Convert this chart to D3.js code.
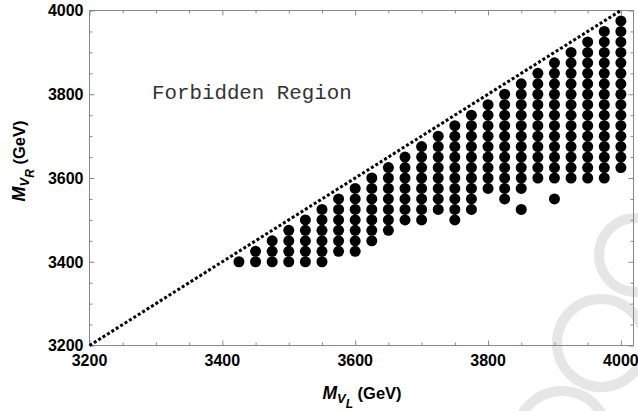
<!DOCTYPE html>
<html>
<head>
<meta charset="utf-8">
<script src="https://cdn.jsdelivr.net/npm/d3@7"></script>
<style>
  body { margin: 0; background: #fff; }
  .tick-label { font-family: "Liberation Sans", Arial, sans-serif; font-weight: bold; font-size: 16px; fill: #000; }
  .axis-title { font-family: "Liberation Sans", Arial, sans-serif; font-weight: bold; fill: #000; }
</style>
</head>
<body>
<div id="chart"></div>
<script>
var svgWidth = 638;
var svgHeight = 411;
var margin = {
    top: 10.5,
    right: 4.5,
    bottom: 65.5,
    left: 89.5
};
var width = svgWidth - margin.left - margin.right;
var height = svgHeight - margin.top - margin.bottom;

// columns of allowed points: M_VL value and lowest / highest M_VR value (step 25 GeV)
var colMVL  = [3425, 3450, 3475, 3500, 3525, 3550, 3575, 3600, 3625, 3650, 3675, 3700,
               3725, 3750, 3775, 3800, 3825, 3850, 3875, 3900, 3925, 3950, 3975, 4000];
var colLow  = [3400, 3400, 3400, 3400, 3400, 3400, 3425, 3425, 3450, 3475, 3500, 3500,
               3525, 3500, 3525, 3575, 3550, 3575, 3600, 3600, 3600, 3600, 3600, 3625];
var colHigh = [3400, 3425, 3450, 3475, 3500, 3525, 3550, 3575, 3600, 3625, 3650, 3675,
               3700, 3725, 3750, 3775, 3800, 3825, 3850, 3875, 3900, 3925, 3950, 3975];
var gridStep = 25;
// isolated points below the columns
var extraMVL = [3850, 3900];
var extraMVR = [3525, 3550];

var xTickValues = [3200, 3400, 3600, 3800, 4000];
var yTickValues = [3200, 3400, 3600, 3800, 4000];
var minorStep = 50;

var points = [];
colMVL.forEach(function (mvl, i) {
    for (var mvr = colLow[i]; mvr <= colHigh[i]; mvr += gridStep) {
        points.push({ mvl: mvl, mvr: mvr });
    }
});
extraMVL.forEach(function (mvl, i) {
    points.push({ mvl: mvl, mvr: extraMVR[i] });
});

var svg = d3
    .select("#chart")
    .append("svg")
    .attr("width", svgWidth)
    .attr("height", svgHeight);

// faint watermark rings behind the plot
var rings = [[636, 255, 37], [601, 343, 44], [562, 437, 46]];
svg.append("g")
    .selectAll("circle")
    .data(rings)
    .enter()
    .append("circle")
    .attr("cx", d => d[0])
    .attr("cy", d => d[1])
    .attr("r", d => d[2])
    .attr("fill", "none")
    .attr("stroke", "#e6e6e6")
    .attr("stroke-width", 10);

var chartGroup = svg.append("g")
    .attr("transform", `translate(${margin.left}, ${margin.top})`);

var xScale = d3.scaleLinear()
    .domain([3200, 4019])
    .range([0, width]);
var yScale = d3.scaleLinear()
    .domain([3200, 4000])
    .range([height, 0]);

var minorX = d3.range(3200, 4001, minorStep).filter(v => xTickValues.indexOf(v) < 0);
var minorY = d3.range(3200, 4001, minorStep).filter(v => yTickValues.indexOf(v) < 0);

// frame ticks (inside, on all four sides)
function frameAxis(axisFn, scale, values, size, transform) {
    var g = chartGroup.append("g")
        .attr("transform", transform)
        .call(axisFn(scale).tickValues(values).tickSize(size).tickFormat(""));
    g.select(".domain").remove();
    g.selectAll("line").attr("stroke", "#888").attr("stroke-width", 1);
    return g;
}
frameAxis(d3.axisTop, xScale, xTickValues, 5, `translate(0, ${height})`);
frameAxis(d3.axisTop, xScale, minorX, 3, `translate(0, ${height})`);
frameAxis(d3.axisBottom, xScale, xTickValues, 5, "translate(0, 0)");
frameAxis(d3.axisBottom, xScale, minorX, 3, "translate(0, 0)");
frameAxis(d3.axisRight, yScale, yTickValues, 5, "translate(0, 0)");
frameAxis(d3.axisRight, yScale, minorY, 3, "translate(0, 0)");
frameAxis(d3.axisLeft, yScale, yTickValues, 5, `translate(${width}, 0)`);
frameAxis(d3.axisLeft, yScale, minorY, 3, `translate(${width}, 0)`);

chartGroup.append("rect")
    .attr("x", 0)
    .attr("y", 0)
    .attr("width", width)
    .attr("height", height)
    .attr("fill", "none")
    .attr("stroke", "#888")
    .attr("stroke-width", 1);

// tick labels
chartGroup.selectAll(".xlab")
    .data(xTickValues)
    .enter()
    .append("text")
    .attr("class", "tick-label")
    .attr("x", d => xScale(d))
    .attr("y", height + 20.5)
    .attr("text-anchor", "middle")
    .text(d => d);

chartGroup.selectAll(".ylab")
    .data(yTickValues)
    .enter()
    .append("text")
    .attr("class", "tick-label")
    .attr("x", -6)
    .attr("y", d => yScale(d))
    .attr("dy", "0.36em")
    .attr("text-anchor", "end")
    .text(d => d);

// points
chartGroup.append("g")
    .selectAll("circle")
    .data(points)
    .enter()
    .append("circle")
    .attr("cx", d => xScale(d.mvl))
    .attr("cy", d => yScale(d.mvr))
    .attr("r", 5.5)
    .attr("fill", "#000");

// M_VR = M_VL boundary
chartGroup.append("line")
    .attr("x1", xScale(3200))
    .attr("y1", yScale(3200))
    .attr("x2", xScale(4000))
    .attr("y2", yScale(4000))
    .attr("stroke", "#000")
    .attr("stroke-width", 3)
    .attr("stroke-dasharray", "3,2.2");

chartGroup.append("text")
    .attr("x", 152 - margin.left)
    .attr("y", 98.5 - margin.top)
    .attr("font-family", "Liberation Mono, Courier New, monospace")
    .attr("font-size", "20.8px")
    .attr("fill", "#333")
    .text("Forbidden Region");

// axis titles
var xTitle = svg.append("text")
    .attr("class", "axis-title")
    .attr("x", 362)
    .attr("y", 399)
    .attr("text-anchor", "middle");
xTitle.append("tspan").attr("font-style", "italic").attr("font-size", "17.5px").text("M");
xTitle.append("tspan").attr("font-style", "italic").attr("font-size", "13px").attr("dy", 4).text("V");
xTitle.append("tspan").attr("font-style", "italic").attr("font-size", "12px").attr("dy", 5).text("L");
xTitle.append("tspan").attr("font-size", "16.5px").attr("dy", -9).text(" (GeV)");

var yTitle = svg.append("text")
    .attr("class", "axis-title")
    .attr("transform", "translate(25, 161) rotate(-90)")
    .attr("text-anchor", "middle");
yTitle.append("tspan").attr("font-style", "italic").attr("font-size", "18px").text("M");
yTitle.append("tspan").attr("font-style", "italic").attr("font-size", "13px").attr("dy", 4).text("V");
yTitle.append("tspan").attr("font-style", "italic").attr("font-size", "12px").attr("dy", 5).text("R");
yTitle.append("tspan").attr("font-size", "16.5px").attr("dy", -9).text(" (GeV)");
</script>
</body>
</html>
